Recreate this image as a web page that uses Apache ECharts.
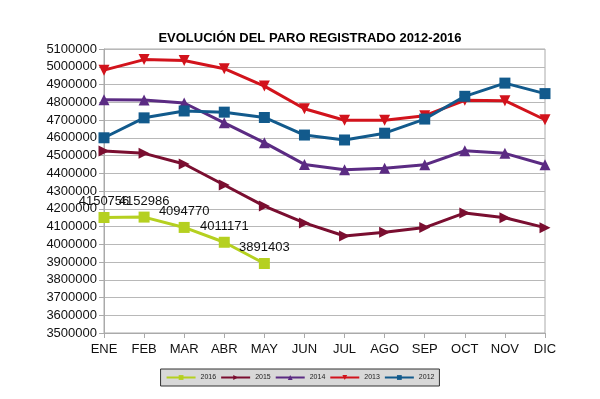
<!DOCTYPE html>
<html><head><meta charset="utf-8">
<script src="https://cdn.jsdelivr.net/npm/echarts@6/dist/echarts.min.js"></script>
<style>html,body{margin:0;padding:0;background:#fff}#c{width:600px;height:399px}</style>
</head><body><div id="c"></div>
<script>
var months = ['ENE','FEB','MAR','ABR','MAY','JUN','JUL','AGO','SEP','OCT','NOV','DIC'];
var y2016 = [4150756,4152986,4094770,4011171,3891403];
var y2015 = [4525691,4512153,4451939,4333669,4215031,4120304,4046276,4067955,4094042,4176369,4149298,4093508];
var y2014 = [4814435,4812486,4795866,4684301,4572385,4449701,4419860,4427930,4447650,4526804,4512116,4447711];
var y2013 = [4980778,5040222,5035243,4989193,4890928,4763680,4698814,4698783,4724355,4811383,4808908,4701338];
var y2012 = [4599829,4712098,4750867,4744235,4714122,4615269,4587455,4625634,4705279,4833521,4907817,4848723];

function mk(name, data, color, symbol, size, rot, extra){
  var s = {name:name, type:'line', data:data, symbol:symbol, symbolSize:size, symbolRotate:rot||0,
    lineStyle:{color:color,width:3}, itemStyle:{color:color}, animation:false};
  if(extra) for(var k in extra) s[k]=extra[k];
  return s;
}
var chart = echarts.init(document.getElementById('c'));
chart.setOption({
  backgroundColor:'#fff',
  title:{text:'EVOLUCIÓN DEL PARO REGISTRADO 2012-2016', left:305, top:27, textAlign:'center',
    textStyle:{fontFamily:'Liberation Sans',fontSize:13,fontWeight:'bold',color:'#000'}},
  grid:{left:104,right:55,top:49,bottom:66, show:true, borderColor:'#aaa', borderWidth:1},
  legend:{bottom:13, left:'center', itemWidth:29, itemHeight:6, itemGap:4,
    backgroundColor:'#d8d8d8', borderColor:'#333', borderWidth:1, padding:[5,5],
    textStyle:{fontFamily:'Liberation Sans',fontSize:7,color:'#222'},
    data:['2016','2015','2014','2013','2012']},
  xAxis:{type:'category', data:months, boundaryGap:false,
    axisLine:{lineStyle:{color:'#aaa'}}, axisTick:{show:true,alignWithLabel:true,lineStyle:{color:'#aaa'}},
    axisLabel:{color:'#111',fontFamily:'Liberation Sans',fontSize:13,margin:10},
    splitLine:{show:false}},
  yAxis:{type:'value', min:3500000, max:5100000, interval:100000,
    axisLine:{show:true,lineStyle:{color:'#aaa'}}, axisTick:{show:true,lineStyle:{color:'#aaa'}},
    axisLabel:{color:'#111',fontFamily:'Liberation Sans',fontSize:13,margin:7,
      formatter:function(v){return String(v);}},
    splitLine:{lineStyle:{color:'#b8b8b8',width:1}}},
  series:[
    mk('2016', y2016, '#b5d020', 'rect', 11, 0, {z:5, label:{show:true,position:'top',distance:4,
      color:'#111',fontFamily:'Liberation Sans',fontSize:13}}),
    mk('2015', y2015, '#7a0e30', 'triangle', 11, -90),
    mk('2014', y2014, '#5b2b83', 'triangle', 11, 0),
    mk('2013', y2013, '#d2131c', 'triangle', 11, 180),
    mk('2012', y2012, '#125a8c', 'rect', 11, 0)
  ]
});
</script></body></html>
